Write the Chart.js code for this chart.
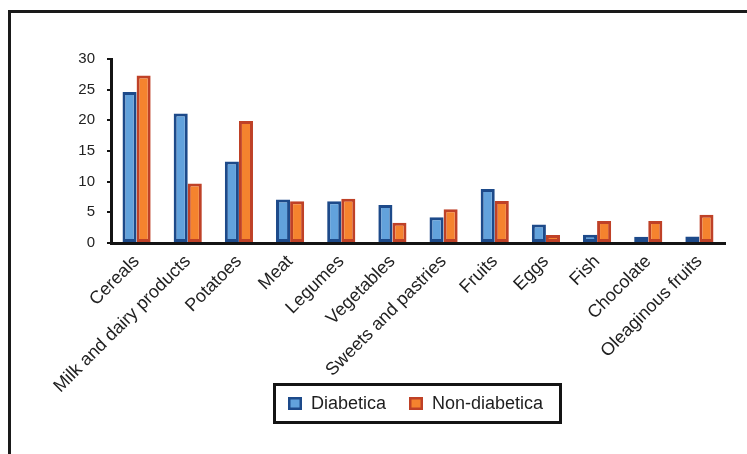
<!DOCTYPE html>
<html><head><meta charset="utf-8">
<script src="https://cdn.jsdelivr.net/npm/chart.js@4"></script>
<style>
html,body{margin:0;padding:0;background:#fff;}
#wrap{position:relative;width:747px;height:454px;overflow:hidden;}
#frame{position:absolute;left:8px;top:10px;width:760px;height:470px;border-top:3px solid #1a1a1a;border-left:3px solid #1a1a1a;}
canvas{position:absolute;left:0;top:0;}
</style></head><body>
<div id="wrap"><div id="frame"></div><canvas id="c" width="747" height="454"></canvas></div>
<script>
const categories = ['Cereals','Milk and dairy products','Potatoes','Meat','Legumes','Vegetables','Sweets and pastries','Fruits','Eggs','Fish','Chocolate','Oleaginous fruits'];
const diabetica = [24.6, 21.1, 13.3, 7.1, 6.8, 6.2, 4.2, 8.8, 3.0, 1.35, 1.0, 1.05];
const nonDiabetica = [27.3, 9.7, 19.9, 6.8, 7.2, 3.3, 5.5, 6.85, 1.3, 3.6, 3.6, 4.6];
const seriesLabels = ['Diabetica', 'Non-diabetica'];
const yMin = 0, yMax = 30, yStep = 5;

const FONT = '"Liberation Sans", Arial, sans-serif';

const legendBoxPlugin = {
  id: 'legendBox',
  afterDraw(chart) {
    const ctx = chart.ctx;
    ctx.save();
    ctx.lineWidth = 3;
    ctx.strokeStyle = '#141414';
    ctx.strokeRect(274.5, 384.5, 286, 38);
    const items = [{x: 288}, {x: 409}];
    chart.data.datasets.forEach((ds, i) => {
      const x = items[i].x, y = 397, w = 14, h = 13;
      ctx.fillStyle = ds.backgroundColor;
      ctx.fillRect(x, y, w, h);
      ctx.lineWidth = 2.5;
      ctx.strokeStyle = ds.borderColor;
      ctx.strokeRect(x + 1.25, y + 1.25, w - 2.5, h - 2.5);
      ctx.fillStyle = '#1e1e1e';
      ctx.font = '18px ' + FONT;
      ctx.textBaseline = 'middle';
      ctx.textAlign = 'left';
      ctx.fillText(ds.label, x + 23, y + h / 2 + 0.5);
    });
    ctx.restore();
  }
};

new Chart(document.getElementById('c'), {
  type: 'bar',
  data: {
    labels: categories,
    datasets: [
      { label: seriesLabels[0], data: diabetica, backgroundColor: '#62a2dc', borderColor: '#1d4a8a', borderWidth: 3, borderSkipped: false },
      { label: seriesLabels[1], data: nonDiabetica, backgroundColor: '#f5832e', borderColor: '#bf4127', borderWidth: 3, borderSkipped: false }
    ]
  },
  options: {
    responsive: false,
    animation: false,
    devicePixelRatio: 1,
    categoryPercentage: 0.55,
    barPercentage: 1.0,
    layout: { padding: { left: 0, top: 59, right: 22, bottom: 0 } },
    plugins: { legend: { display: false }, tooltip: { enabled: false }, title: { display: false } },
    scales: {
      x: {
        grid: { display: false, drawTicks: false },
        border: { display: true, width: 3, color: '#141414' },
        ticks: { autoSkip: false, minRotation: 45, maxRotation: 45, padding: 8, color: '#222', font: { family: FONT, size: 18 } },
        afterFit(s) { s.height = 211; }
      },
      y: {
        min: yMin, max: yMax,
        ticks: { stepSize: yStep, padding: 12, color: '#222', font: { family: FONT, size: 15 } },
        grid: { display: true, drawOnChartArea: false, drawTicks: true, tickLength: 4, lineWidth: 2, color: '#141414' },
        border: { display: true, width: 3, color: '#141414' },
        afterFit(s) { s.width = 111; }
      }
    }
  },
  plugins: [legendBoxPlugin]
});
</script>
</body></html>
